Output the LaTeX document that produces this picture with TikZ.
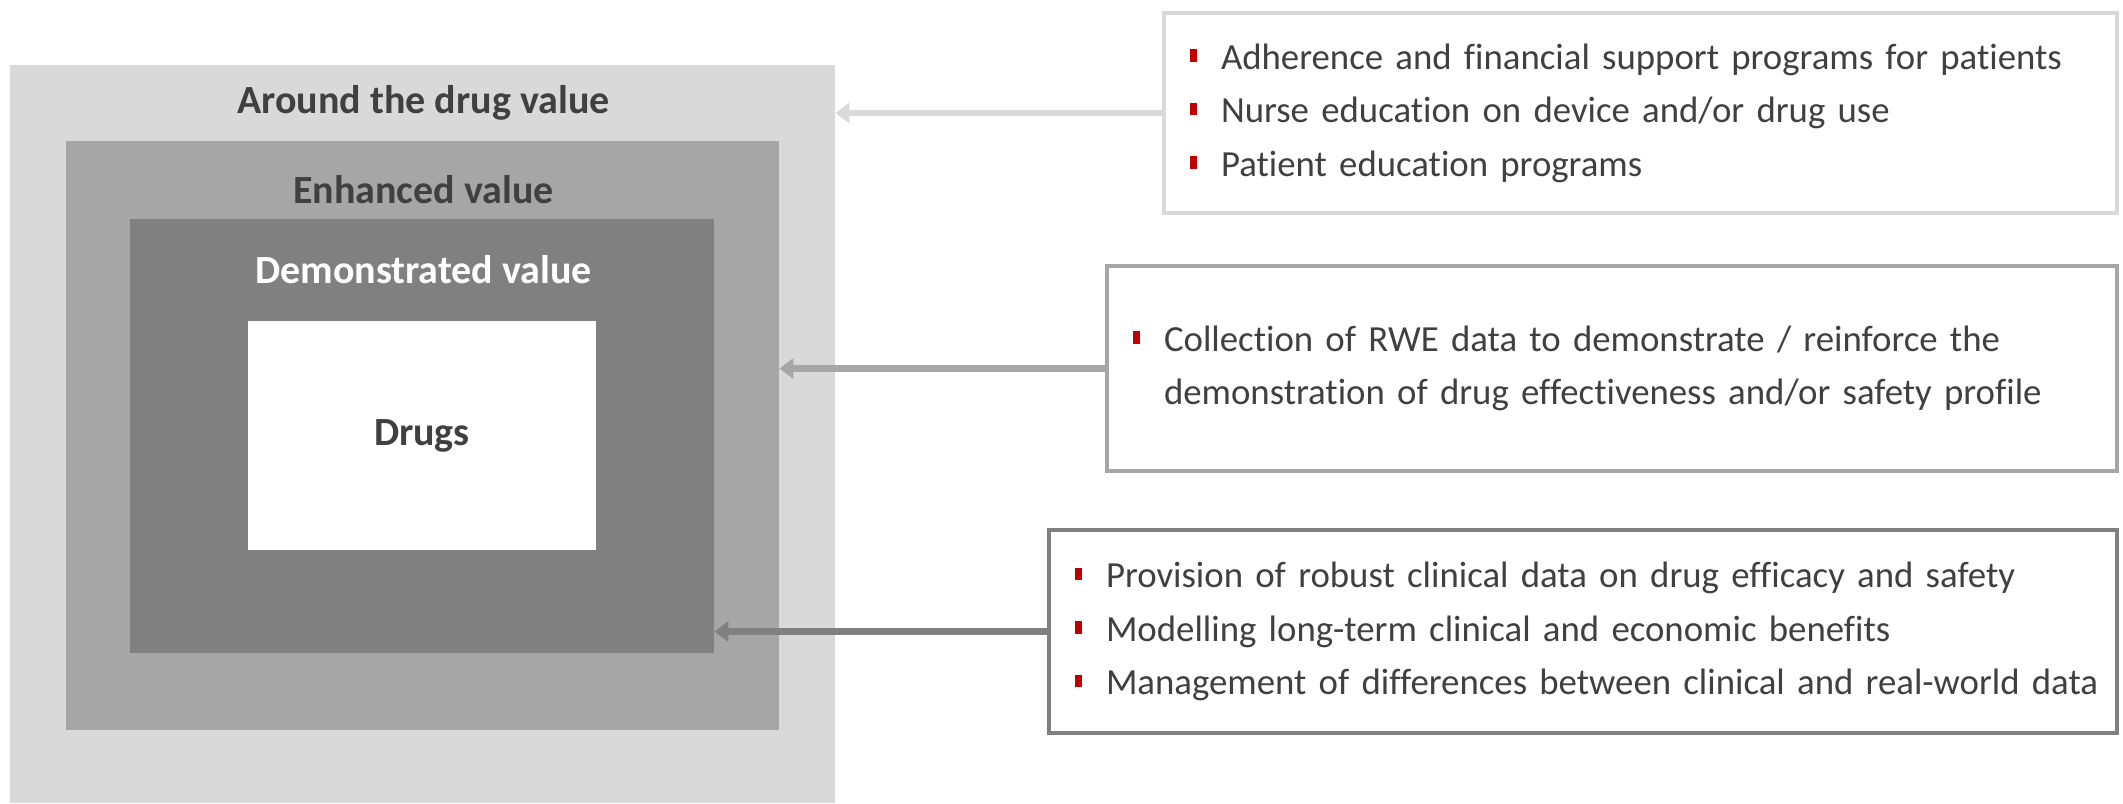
\documentclass[tikz,border=0pt]{standalone}
\usepackage{fontspec}
\setmainfont{Carlito}[Ligatures=NoCommon]
\usepackage{xcolor}
\usepackage{tikz}
\usetikzlibrary{arrows.meta,positioning,calc}
\definecolor{Ink}{HTML}{404040}
\definecolor{PaleGrey}{HTML}{D9D9D9}
\definecolor{MidGrey}{HTML}{A6A6A6}
\definecolor{DeepGrey}{HTML}{808080}
\definecolor{BulletRed}{HTML}{C00000}
\newcommand{\redsq}[1]{\mbox{\makebox[15.5pt][l]{\textcolor{BulletRed}{\rule[3.6pt]{3.6pt}{6.4pt}}}#1}}
\newcommand{\hangsq}[1]{\mbox{\hspace*{15.5pt}#1}}

\begin{document}
\begin{tikzpicture}[x=0.5pt,y=-0.5pt]
  \path[use as bounding box] (0,0) rectangle (2123,803);
  \tikzset{
    dvLayer/.style={
      draw=none, rectangle, inner sep=0pt, font=\fontsize{20}{24}\selectfont\bfseries, text=Ink
    },
    dvTitle/.style={
      anchor=base, inner sep=0pt, font=\fontsize{20}{24}\selectfont\bfseries, text=Ink
    },
    dvBox/.style={
      draw=#1, fill=white, line width=2pt, rectangle, align=left,
      inner xsep=13pt, inner ysep=0pt, text=Ink,
      font=\fontsize{18.4}{26.75}\selectfont
    },
    dvFlow/.style={
      -{Triangle[length=7pt,width=10pt]}, draw=#1, line width=3.2pt
    }
  }

  % nested value layers
  \node[dvLayer, fill=PaleGrey, minimum width=412.5pt, minimum height=369pt] (around) at (422.5,434) {};
  \node[dvLayer, fill=MidGrey, minimum width=356.5pt, minimum height=294.5pt] (enhanced) at (422.5,435.5) {};
  \node[dvLayer, fill=DeepGrey, minimum width=292pt, minimum height=217pt] (demonstrated) at (422,436) {};
  \node[dvLayer, fill=white, minimum width=174pt, minimum height=114.5pt] (drugs) at (422,435.5) {Drugs};

  \node[dvTitle] (aroundTitle) at (423.5,113) {Around the drug value};
  \node[dvTitle] (enhancedTitle) at (423.5,203) {Enhanced value};
  \node[dvTitle, text=white] (demonstratedTitle) at (423.5,283) {Demonstrated value};

  % levers per layer
  \node[dvBox=PaleGrey, minimum width=476.5pt, minimum height=100pt, text width=450.5pt] (support) at (1640.5,113)
    {\redsq{Adherence and financial support programs for patients}\\
     \redsq{Nurse education on device and/or drug use}\\
     \redsq{Patient education programs}};
  \node[dvBox=MidGrey, minimum width=505pt, minimum height=102.5pt, text width=479pt] (rwe) at (1612,368.5)
    {\redsq{Collection of RWE data to demonstrate / reinforce the}\\
     \hangsq{demonstration of drug effectiveness and/or safety profile}};
  \node[dvBox=DeepGrey, minimum width=534pt, minimum height=101.5pt, text width=508pt] (clinical) at (1583,631.5)
    {\redsq{Provision of robust clinical data on drug efficacy and safety}\\
     \redsq{Modelling long-term clinical and economic benefits}\\
     \redsq{Management of differences between clinical and real-world data}};

  \draw[dvFlow=PaleGrey] (support.west) -- (support.west -| around.east);
  \draw[dvFlow=MidGrey] (rwe.west) -- (rwe.west -| enhanced.east);
  \draw[dvFlow=DeepGrey] (clinical.west) -- (clinical.west -| demonstrated.east);
\end{tikzpicture}
\end{document}
